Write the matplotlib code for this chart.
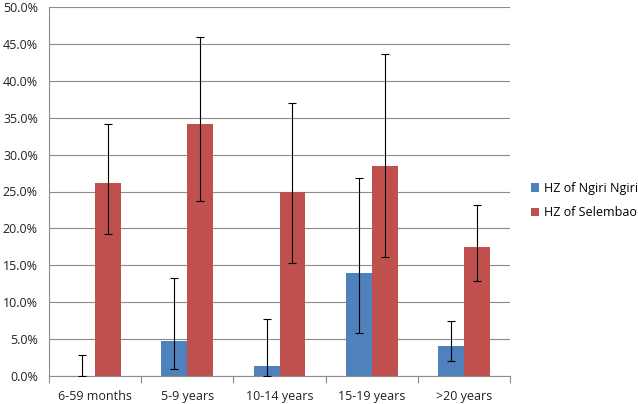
import matplotlib
matplotlib.use("Agg")
import matplotlib.pyplot as plt
import numpy as np

categories = ["6-59 months", "5-9 years", "10-14 years", "15-19 years", ">20 years"]
series_names = ["HZ of Ngiri Ngiri", "HZ of Selembao"]
ngiri = [0.0, 4.8, 1.3, 13.9, 4.1]
ngiri_low = [0.0, 0.95, 0.0, 5.8, 2.0]
ngiri_high = [2.9, 13.3, 7.7, 26.8, 7.5]
selembao = [26.2, 34.2, 25.0, 28.4, 17.5]
selembao_low = [19.3, 23.7, 15.3, 16.1, 12.9]
selembao_high = [34.2, 46.0, 37.0, 43.6, 23.2]
yticks = [0, 5, 10, 15, 20, 25, 30, 35, 40, 45, 50]

plt.rcParams['font.family'] = ['Open Sans', 'DejaVu Sans']

fig = plt.figure(figsize=(6.38, 4.04), dpi=100)
ax = fig.add_axes([49/638, 28/404, 461/638, 369/404])

x = np.arange(len(categories))
w = 0.28
blue = "#4F81BD"
red = "#C0504D"

def err(v, lo, hi):
    v = np.array(v); lo = np.array(lo); hi = np.array(hi)
    return np.vstack([v - lo, hi - v])

ax.bar(x - w/2, ngiri, w, color=blue, label=series_names[0], zorder=2)
ax.bar(x + w/2, selembao, w, color=red, label=series_names[1], zorder=2)
ax.errorbar(x - w/2, ngiri, yerr=err(ngiri, ngiri_low, ngiri_high), fmt='none',
            ecolor='black', elinewidth=0.8, capsize=3, capthick=0.8, zorder=3)
ax.errorbar(x + w/2, selembao, yerr=err(selembao, selembao_low, selembao_high), fmt='none',
            ecolor='black', elinewidth=0.8, capsize=3, capthick=0.8, zorder=3)

ax.set_xlim(-0.5, len(categories) - 0.5)
ax.set_ylim(0, 50)
ax.set_yticks(yticks)
ax.set_yticklabels([f"{t:.1f}%" for t in yticks], fontsize=9, color="#222222")
ax.yaxis.grid(True, color="#8c8c8c", linewidth=0.8, zorder=0)
ax.set_axisbelow(True)

ax.set_xticks(x)
ax.set_xticklabels(categories, fontsize=9, color="#222222")
ax.tick_params(axis='x', length=0, pad=10)
ax.set_xticks(np.arange(-0.5, len(categories)), minor=True)
ax.tick_params(axis='x', which='minor', length=5, color="#8c8c8c", width=0.8)
ax.tick_params(axis='y', length=0, pad=8)

for s in ["top", "right"]:
    ax.spines[s].set_visible(False)
for s in ["left", "bottom"]:
    ax.spines[s].set_color("#8c8c8c")
    ax.spines[s].set_linewidth(0.8)

leg = fig.legend(loc="upper left", bbox_to_anchor=(531/638, 1 - 182/404), frameon=False,
                 fontsize=9, handlelength=0.65, handleheight=0.65, handletextpad=0.35,
                 labelspacing=0.9, borderaxespad=0, borderpad=0)

fig.savefig("out.png", dpi=100)
